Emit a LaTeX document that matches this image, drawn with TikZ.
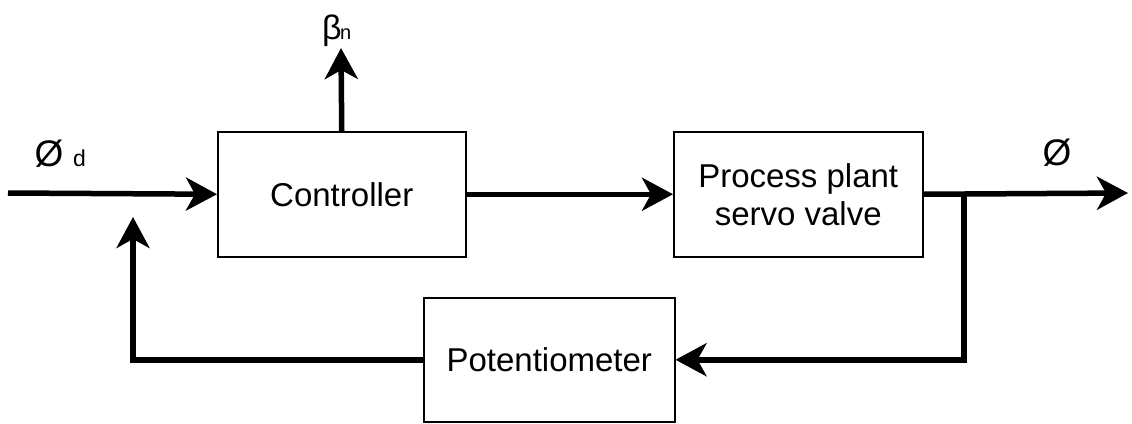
\documentclass[tikz,border=0pt]{standalone}
\usepackage{fontspec}
\setmainfont{Liberation Sans}
\usetikzlibrary{arrows.meta}
\begin{document}
\begin{tikzpicture}[x=1pt,y=-1pt,
  blk/.style={draw, line width=1.5pt, minimum width=248pt, minimum height=125pt,
    anchor=north west, inner sep=0pt, align=center, font=\fontsize{33}{38}\selectfont},
  conn/.style={line width=5.5pt, -{Stealth[length=31pt,width=33pt,inset=9pt]}},
  big/.style={inner sep=0pt, font=\fontsize{37}{40}\selectfont},
  small/.style={inner sep=0pt, font=\fontsize{23}{26}\selectfont}]
\useasboundingbox (0,0) rectangle (1132,423);
\node[blk] (ctrl) at (217,131) {Controller};
\node[blk, minimum width=249pt] (plant) at (673,131) {Process plant\\servo valve};
\node[blk, minimum width=251pt, minimum height=124pt] (pot) at (423,297) {Potentiometer};
\coordinate (in) at (8,193);
\coordinate (fbtip) at (133,217);
\coordinate (betatip) at (341,48);
\coordinate (out) at (1128,193);
\coordinate (br) at (964,193);
\draw[conn] (in) -- (ctrl.west);
\draw[conn] (ctrl.east) -- (plant.west);
\draw[conn] (ctrl.north) -- (betatip);
\draw[conn] (plant.east) -- (out);
\draw[conn] (br) |- (pot.east);
\draw[conn] (pot.west) -| (fbtip);
\node[big, anchor=base] (phid) at (49,166) {Ø};
\node[small, anchor=base west] (d) at (73,166) {d};
\node[inner sep=0pt, font=\fontsize{34}{38}\selectfont, anchor=base] (beta) at (332,39) {β};
\node[inner sep=0pt, font=\fontsize{20}{22}\selectfont, anchor=base west] (n) at (340,39) {n};
\node[big, anchor=base] (phi) at (1057,165) {Ø};
\end{tikzpicture}
\end{document}
